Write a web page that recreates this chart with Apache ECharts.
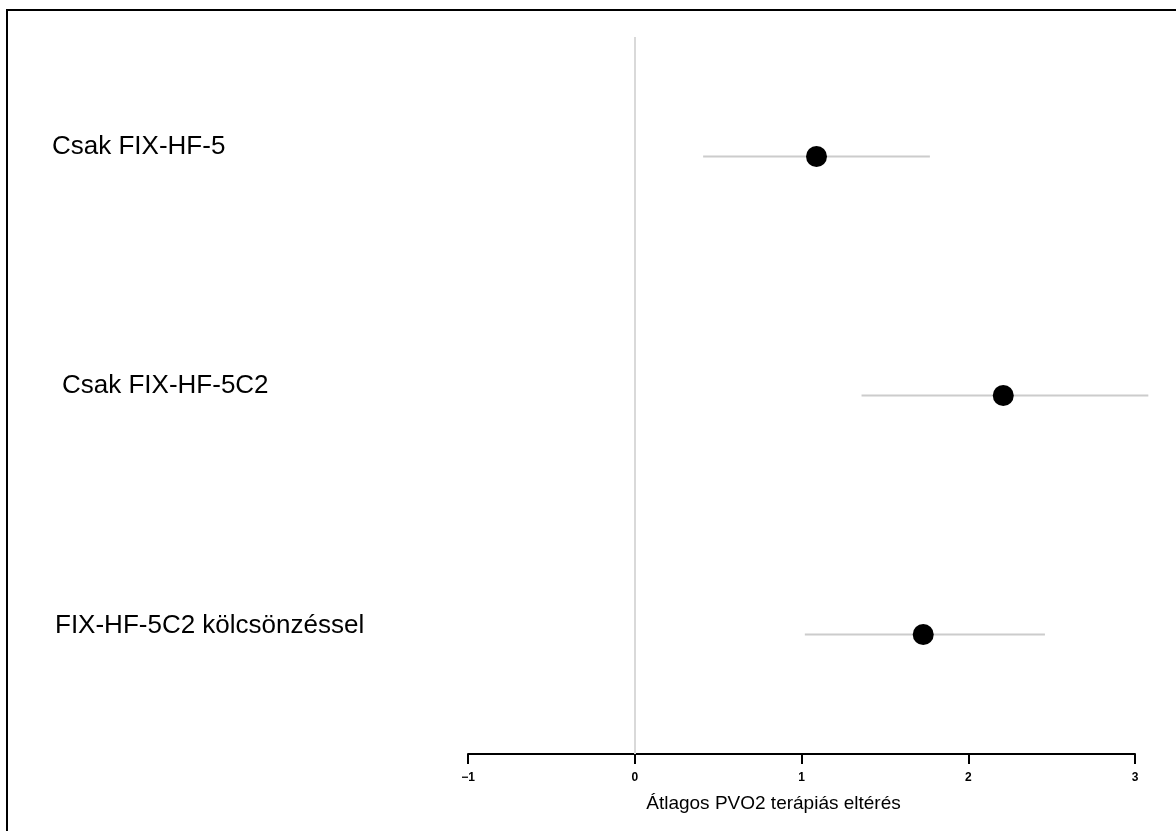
<!DOCTYPE html>
<html>
<head>
<meta charset="utf-8">
<script src="https://cdn.jsdelivr.net/npm/echarts@6/dist/echarts.min.js"></script>
<style>
  html, body { margin: 0; padding: 0; background: #fff; }
  #chart { width: 1176px; height: 831px; }
</style>
</head>
<body>
<div id="chart"></div>
<script>
// rows from top to bottom
var categories = ['Csak FIX-HF-5', 'Csak FIX-HF-5C2', 'FIX-HF-5C2 kölcsönzéssel'];
var estimates = [1.09, 2.21, 1.73];
var lower = [0.41, 1.36, 1.02];
var upper = [1.77, 3.08, 2.46];
var xTicks = [-1, 0, 1, 2, 3];
var xTitle = 'Átlagos PVO2 terápiás eltérés';

var labelShift = [0, 10, 3];   // small left offsets of the row labels

var chart = echarts.init(document.getElementById('chart'));

chart.setOption({
    animation: false,
    backgroundColor: '#fff',
    textStyle: { fontFamily: 'Liberation Sans, Arial, sans-serif' },
    grid: { left: 468, right: 41, top: 37, bottom: 77 },
    graphic: [{
        type: 'polyline',
        shape: { points: [[7, 831], [7, 10], [1176, 10]] },
        style: { stroke: '#000', lineWidth: 2, fill: null }
    }],
    xAxis: {
        type: 'value',
        min: xTicks[0],
        max: xTicks[xTicks.length - 1],
        interval: 1,
        splitLine: { show: false },
        axisLine: { show: true, onZero: false, lineStyle: { color: '#000', width: 2 } },
        axisTick: { show: true, length: 10, lineStyle: { color: '#000', width: 2 } },
        axisLabel: {
            color: '#000', fontSize: 12, fontWeight: 'bold', margin: 18,
            formatter: function (v) { return v < 0 ? '\u2212' + Math.abs(v) : String(v) }
        },
        name: xTitle,
        nameLocation: 'middle',
        nameGap: 40,
        nameTextStyle: { color: '#000', fontSize: 19, padding: [0, 56, 0, 0] }
    },
    yAxis: {
        type: 'category',
        data: categories,
        inverse: true,
        axisLine: { show: false },
        axisTick: { show: false },
        splitLine: { show: false },
        axisLabel: {
            align: 'left',
            margin: 416,
            formatter: function (v, i) { return '{r' + i + '|' + v + '}' },
            rich: {
                r0: { fontSize: 26, color: '#000', padding: [0, 0, 20, labelShift[0]] },
                r1: { fontSize: 26, color: '#000', padding: [0, 0, 20, labelShift[1]] },
                r2: { fontSize: 26, color: '#000', padding: [0, 0, 18, labelShift[2]] }
            }
        }
    },
    series: [
        {
            type: 'custom',
            clip: false,
            silent: true,
            data: categories.map(function (c, i) { return [lower[i], upper[i], i] }),
            renderItem: function (params, api) {
                var a = api.coord([api.value(0), api.value(2)]);
                var b = api.coord([api.value(1), api.value(2)]);
                return {
                    type: 'line',
                    shape: { x1: a[0], y1: a[1], x2: b[0], y2: b[1] },
                    style: { stroke: '#cccccc', lineWidth: 2 }
                };
            },
            z: 2
        },
        {
            type: 'scatter',
            symbol: 'circle',
            symbolSize: 21,
            itemStyle: { color: '#000', opacity: 1 },
            data: categories.map(function (c, i) { return [estimates[i], i] }),
            markLine: {
                silent: true,
                symbol: ['none', 'none'],
                label: { show: false },
                lineStyle: { color: '#d9d9d9', width: 2, type: 'solid' },
                data: [{ xAxis: 0 }]
            },
            z: 3
        }
    ]
});
</script>
</body>
</html>
